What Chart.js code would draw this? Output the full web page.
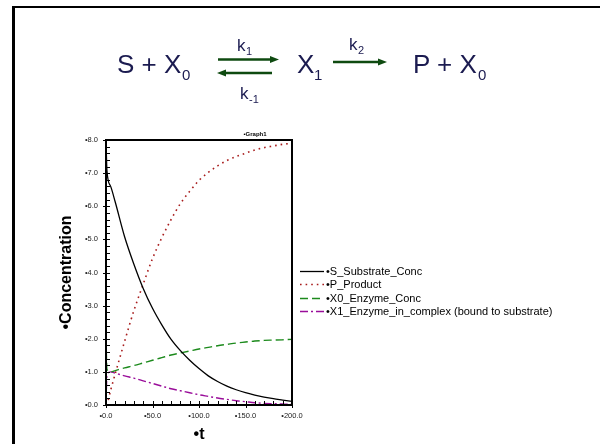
<!DOCTYPE html>
<html>
<head>
<meta charset="utf-8">
<title>Graph1</title>
<script src="https://cdn.jsdelivr.net/npm/chart.js@4"></script>
<style>
  body { margin: 0; background: #fff; }
  #slide { position: relative; width: 600px; height: 444px; overflow: hidden; }
  #myChart { position: absolute; left: 0; top: 0; }
  #eq { position: absolute; left: 0; top: 0; }
  .edge { position: absolute; background: #000; }
</style>
</head>
<body>
<div id="slide">
  <canvas id="myChart" width="600" height="444"></canvas>

  <!-- reaction scheme above the graph -->
  <svg id="eq" width="600" height="120">
    <g fill="#1b1b50" font-family="Liberation Sans, Arial, sans-serif">
      <text x="117" y="73" font-size="26">S + X</text>
      <text x="182" y="80" font-size="15">0</text>
      <text x="237" y="51" font-size="17">k</text>
      <text x="246" y="55" font-size="11">1</text>
      <text x="240" y="99" font-size="17">k</text>
      <text x="249" y="103" font-size="11">-1</text>
      <text x="297" y="73" font-size="26">X</text>
      <text x="314" y="80" font-size="15">1</text>
      <text x="349" y="50" font-size="17">k</text>
      <text x="358" y="54" font-size="11">2</text>
      <text x="413" y="73" font-size="26">P + X</text>
      <text x="478" y="80" font-size="15">0</text>
    </g>
    <g stroke="#0e4a10" stroke-width="2.5">
      <line x1="218" y1="59.5" x2="272" y2="59.5"/>
      <line x1="224" y1="73" x2="272" y2="73"/>
      <line x1="333" y1="62" x2="380" y2="62"/>
    </g>
    <g fill="#0e4a10">
      <polygon points="279,59.5 270,56 270,63"/>
      <polygon points="217,73 226,69.5 226,76.5"/>
      <polygon points="387,62 378,58.5 378,65.5"/>
    </g>
  </svg>

  <div class="edge" style="left:12px; top:6px; width:3px; height:438px"></div>
  <div class="edge" style="left:12px; top:6px; width:588px; height:2px"></div>
</div>

<script>
'use strict';

// time points (t)
let times = [0, 1, 5, 10, 20, 30, 40, 50, 60, 70, 80, 90, 100, 110, 120, 130, 140, 150, 160, 170, 180, 190, 200];

// concentrations at each time
let substrate = [8.0, 7.08, 6.6, 6.12, 5.08, 4.25, 3.52, 2.92, 2.42, 1.98, 1.64, 1.35, 1.1, 0.88, 0.71, 0.57, 0.46, 0.37, 0.3, 0.24, 0.19, 0.15, 0.11];
let product = [0, 0.02, 0.45, 0.95, 1.92, 2.85, 3.65, 4.42, 5.05, 5.6, 6.08, 6.45, 6.78, 7.02, 7.22, 7.38, 7.5, 7.6, 7.7, 7.77, 7.82, 7.87, 7.9];
let enzymeFree = [2.0, 1.08, 1.0, 1.04, 1.12, 1.19, 1.27, 1.35, 1.43, 1.51, 1.57, 1.63, 1.69, 1.74, 1.79, 1.83, 1.87, 1.9, 1.93, 1.95, 1.96, 1.97, 1.98];
let enzymeBound = [0, 0.92, 1.0, 0.96, 0.88, 0.81, 0.73, 0.65, 0.57, 0.49, 0.43, 0.37, 0.31, 0.26, 0.21, 0.17, 0.13, 0.1, 0.07, 0.05, 0.04, 0.03, 0.02];

let seriesNames = [
  '•S_Substrate_Conc',
  '•P_Product',
  '•X0_Enzyme_Conc',
  '•X1_Enzyme_in_complex (bound to substrate)'
];

let xMin = 0, xMax = 200, xStep = 10, xLabelEvery = 50;
let yMin = 0, yMax = 8, yStep = 0.2;

const FONT = 'Liberation Sans, Arial, sans-serif';

function toPoints(values) {
  let pts = [];
  for (let i = 0; i < times.length; i++) {
    pts.push({ x: times[i], y: values[i] });
  }
  return pts;
}

function isWhole(v) {
  return Math.abs(v - Math.round(v)) < 1e-6;
}

// box around the plot, inward tick marks, little title and the legend
const framePlugin = {
  id: 'frame',
  afterDraw(chart) {
    const ctx = chart.ctx;
    const a = chart.chartArea;
    const xs = chart.scales.x;
    const ys = chart.scales.y;
    ctx.save();
    ctx.strokeStyle = '#000';
    ctx.lineWidth = 2;
    ctx.strokeRect(a.left, a.top, a.right - a.left, a.bottom - a.top);

    ctx.lineWidth = 1;
    ctx.beginPath();
    xs.ticks.forEach(t => {
      let px = Math.round(xs.getPixelForValue(t.value)) + 0.5;
      let major = t.value % xLabelEvery === 0;
      ctx.moveTo(px, a.bottom + (major ? 3 : 0));
      ctx.lineTo(px, a.bottom - 4);
    });
    ys.ticks.forEach(t => {
      let py = Math.round(ys.getPixelForValue(t.value)) + 0.5;
      let major = isWhole(t.value);
      ctx.moveTo(a.left - (major ? 3 : 0), py);
      ctx.lineTo(a.left + 4, py);
    });
    ctx.stroke();

    ctx.fillStyle = '#000';
    ctx.font = 'bold 6px ' + FONT;
    ctx.textAlign = 'center';
    ctx.textBaseline = 'middle';
    ctx.fillText('•Graph1', a.left + 149, a.top - 6);

    // legend
    let x0 = a.right + 8;
    let y0 = 270.5;
    ctx.font = '11px ' + FONT;
    ctx.textAlign = 'left';
    chart.data.datasets.forEach((ds, i) => {
      let y = Math.round(y0 + i * 13.6) + 0.5;
      ctx.strokeStyle = ds.borderColor;
      ctx.lineWidth = ds.borderWidth;
      ctx.setLineDash(ds.borderDash || []);
      ctx.beginPath();
      ctx.moveTo(x0, y);
      ctx.lineTo(x0 + 24, y);
      ctx.stroke();
      ctx.setLineDash([]);
      ctx.fillStyle = '#000';
      ctx.fillText(ds.label, x0 + 26, y);
    });
    ctx.restore();
  }
};

const data = {
  datasets: [
    {
      label: seriesNames[0],
      data: toPoints(substrate),
      borderColor: '#000000',
      borderWidth: 1.3,
      borderDash: []
    },
    {
      label: seriesNames[1],
      data: toPoints(product),
      borderColor: '#a81c1c',
      borderWidth: 1.6,
      borderDash: [1.6, 4]
    },
    {
      label: seriesNames[2],
      data: toPoints(enzymeFree),
      borderColor: '#1c8a1c',
      borderWidth: 1.4,
      borderDash: [8, 4]
    },
    {
      label: seriesNames[3],
      data: toPoints(enzymeBound),
      borderColor: '#9a0e9a',
      borderWidth: 1.4,
      borderDash: [8, 3, 2, 3]
    }
  ]
};

const config = {
  type: 'line',
  data: data,
  options: {
    responsive: false,
    animation: false,
    devicePixelRatio: 1,
    layout: {
      padding: { left: 40, right: 308, top: 140, bottom: 0 }
    },
    elements: {
      point: { radius: 0 },
      line: { cubicInterpolationMode: 'monotone' }
    },
    plugins: {
      legend: { display: false },
      tooltip: { enabled: false }
    },
    scales: {
      x: {
        type: 'linear',
        min: xMin,
        max: xMax,
        afterFit: s => { s.height = 39; },
        grid: { display: false, drawTicks: false },
        border: { display: false },
        ticks: {
          stepSize: xStep,
          autoSkip: false,
          maxRotation: 0,
          padding: 6,
          color: '#222',
          font: { family: FONT, size: 7.5 },
          callback: v => (v % xLabelEvery === 0 ? '•' + v.toFixed(1) : '')
        },
        title: {
          display: true,
          text: '•t',
          color: '#000',
          padding: 0,
          font: { family: FONT, size: 16, weight: 'bold' }
        }
      },
      y: {
        min: yMin,
        max: yMax,
        afterFit: s => { s.width = 66; },
        grid: { display: false, drawTicks: false },
        border: { display: false },
        ticks: {
          stepSize: yStep,
          autoSkip: false,
          padding: 8,
          color: '#222',
          font: { family: FONT, size: 7.5 },
          callback: v => (isWhole(v) ? '•' + Math.round(v).toFixed(1) : '')
        },
        title: {
          display: true,
          text: '•Concentration',
          color: '#000',
          padding: { top: 17, bottom: 0 },
          font: { family: FONT, size: 16, weight: 'bold' }
        }
      }
    }
  },
  plugins: [framePlugin]
};

const myChart = new Chart(
  document.getElementById('myChart'),
  config
);
</script>
</body>
</html>
